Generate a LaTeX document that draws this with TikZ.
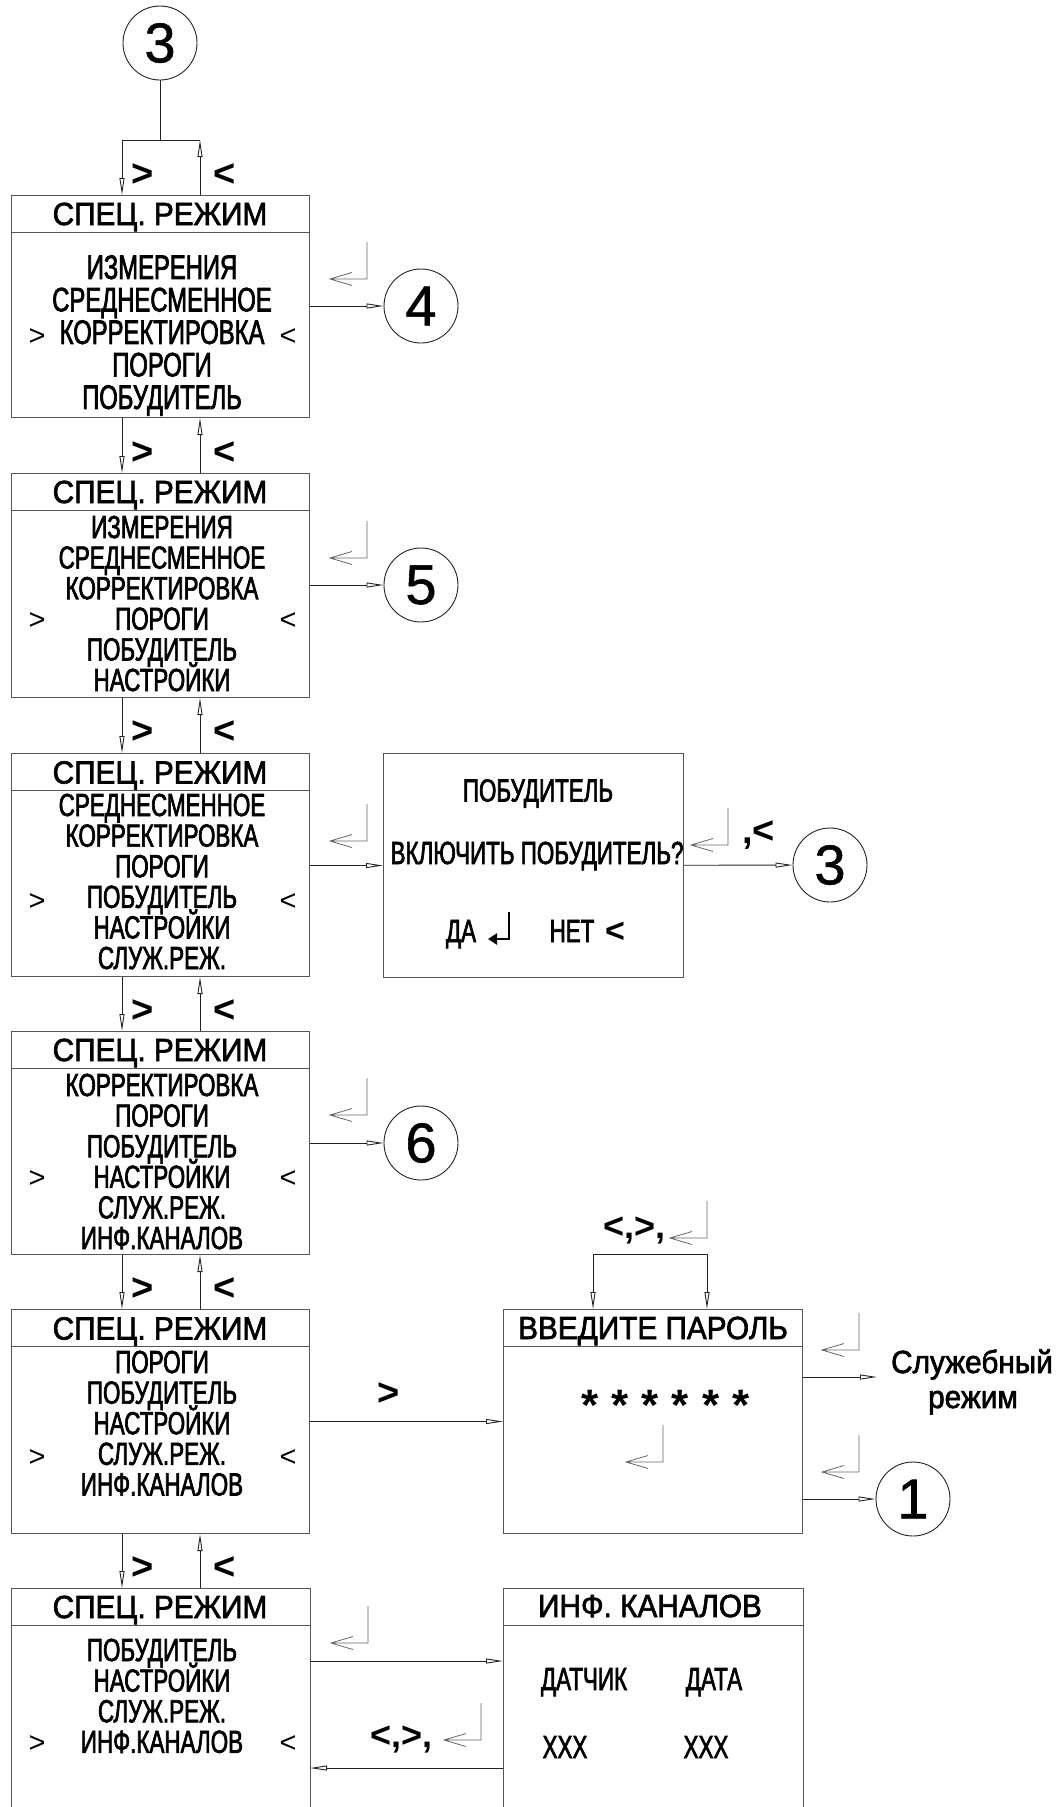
\documentclass[tikz,border=0pt]{standalone}
\usepackage{fontspec}
\setmainfont{Liberation Sans}
\newfontfamily\bodyf[FakeStretch=0.70,FakeBold=2]{Liberation Sans}
\newfontfamily\headf[FakeStretch=0.93,FakeBold=2]{Liberation Sans}
\newfontfamily\digf[FakeBold=1]{Liberation Sans}
\usetikzlibrary{arrows.meta,calc}
\definecolor{boxc}{HTML}{555555}
\definecolor{linec}{HTML}{222222}
\definecolor{retc}{HTML}{666666}
\tikzset{
  scrbox/.style={draw=boxc, line width=1pt, rectangle, inner sep=0pt, anchor=north west},
  boxline/.style={draw=boxc, line width=1pt},
  wire/.style={draw=linec, line width=0.9pt},
  arr/.style={wire, -{Triangle[open, length=17pt, width=5pt]}},
  headtxt/.style={font=\headf\fontsize{32}{34}\selectfont, inner sep=0pt, anchor=base},
  bodytxt/.style={font=\bodyf\fontsize{32}{30.6}\selectfont, inner sep=0pt, align=center, anchor=north},
  txt/.style={font=\bodyf\fontsize{32}{34}\selectfont, inner sep=0pt, anchor=base},
  selmark/.style={font=\fontsize{29}{31}\selectfont, inner sep=0pt, anchor=base},
  keylab/.style={font=\bfseries\fontsize{38}{40}\selectfont, inner sep=0pt, anchor=base},
  conn/.style={circle, draw=linec, line width=0.9pt, minimum size=74pt, inner sep=0pt, font=\digf\fontsize{56}{58}\selectfont},
  retline/.style={draw=retc, line width=0.8pt},
  ret/.pic={\draw[retline] (0,-37) -- (0,0) -- (-37,0) (-15,-6.5) -- (-37,0) -- (-15,6.5);},
}
\begin{document}
\setlength{\lineskiplimit}{-100pt}
\begin{tikzpicture}[x=1pt,y=-1pt]
\useasboundingbox (0,0) rectangle (1060,1807);
\coordinate (bot) at (0,1807);
% top connector
\node[conn] (c3t) at (160,43) {3};
\coordinate (jl) at (122,140);
\coordinate (jm) at (160,140);
\coordinate (jr) at (200,140);
\draw[wire] (c3t) -- (jm);
\draw[wire] (jl) -- (jr);

% left column boxes
\node[scrbox, minimum width=298pt, minimum height=222pt] (B1) at (11,195) {};
\node[scrbox, minimum width=298pt, minimum height=224pt] (B2) at (11,473) {};
\node[scrbox, minimum width=298pt, minimum height=223pt] (B3) at (11,753) {};
\node[scrbox, minimum width=298pt, minimum height=223pt] (B4) at (11,1031) {};
\node[scrbox, minimum width=298pt, minimum height=224pt] (B5) at (11,1309) {};
\node[scrbox, draw=none, minimum width=298pt, minimum height=219pt] (B6) at (11,1588) {};
\draw[boxline] (B6.north west |- bot) -- (B6.north west) -- (B6.north east) -- (B6.north east |- bot);
\draw[arr] (jl) -- (jl |- B1.north);
\draw[arr] (jr |- B1.north) -- (jr);
\foreach \b in {B1,B2,B3,B4,B5,B6}{
  \draw[boxline] ([yshift=-37pt]\b.north west) -- ([yshift=-37pt]\b.north east);
}
\foreach \u/\l in {B1/B2,B2/B3,B3/B4,B4/B5,B5/B6}{
  \draw[arr] (jl |- \u.south) -- (jl |- \l.north);
  \draw[arr] (jr |- \l.north) -- (jr |- \u.south);
}
\foreach \y [count=\i] in {186,464,743,1022,1300,1579}{
  \node[keylab] (gt\i) at (143,\y) {>};
  \node[keylab] (lt\i) at (225,\y) {<};
}
% headers
\node[headtxt] (B1h) at (160,225) {СПЕЦ. РЕЖИМ};
\node[headtxt] (B2h) at (160,503) {СПЕЦ. РЕЖИМ};
\node[headtxt] (B3h) at (160,783.5) {СПЕЦ. РЕЖИМ};
\node[headtxt] (B4h) at (160,1061) {СПЕЦ. РЕЖИМ};
\node[headtxt] (B5h) at (160,1339.5) {СПЕЦ. РЕЖИМ};
\node[headtxt] (B6h) at (160,1618) {СПЕЦ. РЕЖИМ};
% bodies
\node[bodytxt, font=\bodyf\fontsize{34}{32.5}\selectfont] (B1t) at (162,255)
  {ИЗМЕРЕНИЯ\\СРЕДНЕСМЕННОЕ\\КОРРЕКТИРОВКА\\ПОРОГИ\\ПОБУДИТЕЛЬ};
\node[bodytxt] (B2t) at (162,515.5)
  {ИЗМЕРЕНИЯ\\СРЕДНЕСМЕННОЕ\\КОРРЕКТИРОВКА\\ПОРОГИ\\ПОБУДИТЕЛЬ\\НАСТРОЙКИ};
\node[bodytxt] (B3t) at (162,793.5)
  {СРЕДНЕСМЕННОЕ\\КОРРЕКТИРОВКА\\ПОРОГИ\\ПОБУДИТЕЛЬ\\НАСТРОЙКИ\\СЛУЖ.РЕЖ.};
\node[bodytxt] (B4t) at (162,1073.5)
  {КОРРЕКТИРОВКА\\ПОРОГИ\\ПОБУДИТЕЛЬ\\НАСТРОЙКИ\\СЛУЖ.РЕЖ.\\ИНФ.КАНАЛОВ};
\node[bodytxt] (B5t) at (162,1350.5)
  {ПОРОГИ\\ПОБУДИТЕЛЬ\\НАСТРОЙКИ\\СЛУЖ.РЕЖ.\\ИНФ.КАНАЛОВ};
\node[bodytxt] (B6t) at (162,1638.5)
  {ПОБУДИТЕЛЬ\\НАСТРОЙКИ\\СЛУЖ.РЕЖ.\\ИНФ.КАНАЛОВ};
% selection markers
\foreach \y [count=\i] in {345,629,910,1187.5,1466,1752}{
  \node[selmark] (sl\i) at (37,\y) {>};
  \node[selmark] (sr\i) at (288,\y) {<};
}
% right-hand circles and returns
\node[conn] (c4) at (421,306) {4};
\node[conn] (c5) at (421,585) {5};
\node[conn] (c6) at (421,1143) {6};
\draw[arr] (B1.east |- c4) -- (c4);
\draw[arr] (B2.east |- c5) -- (c5);
\draw[arr] (B4.east |- c6) -- (c6);
\pic at (367,279) {ret};
\pic at (367,558) {ret};
\pic at (367,841) {ret};
\pic at (367,1115) {ret};

% popup box
\node[scrbox, minimum width=300pt, minimum height=224pt] (Q) at (383,753) {};
\draw[arr] (B3.east |- Q) -- (Q);
\node[txt] (q1) at (538,801.5) {ПОБУДИТЕЛЬ};
\node[txt] (q2) at (537,864) {ВКЛЮЧИТЬ ПОБУДИТЕЛЬ?};
\node[txt] (q3) at (461,942) {ДА};
\draw[line width=2.6pt, -{Triangle[length=9pt,width=11pt]}] (509,912) -- (509,939) -- (488,939);
\node[txt] (q4) at (572,942) {НЕТ};
\node[keylab, font=\bfseries\fontsize{34}{36}\selectfont] (q5) at (615,942) {<};
\node[conn] (c3r) at (830,865) {3};
\draw[arr] (Q) -- (c3r);
\pic at (728,845) {ret};
\node[keylab, anchor=base west] (qk) at (742,843) {,<};

% password box
\node[scrbox, minimum width=299pt, minimum height=224pt] (P) at (503,1309) {};
\draw[boxline] ([yshift=-37pt]P.north west) -- ([yshift=-37pt]P.north east);
\node[headtxt] (Ph) at (653,1339) {ВВЕДИТЕ ПАРОЛЬ};
\node[font=\bfseries\fontsize{44}{46}\selectfont, inner sep=0pt, anchor=base] (stars) at (665.5,1420)
  {*\hspace{13pt}*\hspace{13pt}*\hspace{13pt}*\hspace{13pt}*\hspace{13pt}*};
\pic at (663,1462) {ret};
\draw[arr] (B5.east |- P) -- (P);
\node[keylab] (pgt) at (389,1405) {>};
\coordinate (pl) at (593,1254);
\coordinate (pr) at (707,1254);
\draw[wire] (pl) -- (pr);
\draw[arr] (pl) -- (pl |- P.north);
\draw[arr] (pr) -- (pr |- P.north);
\node[keylab, font=\bfseries\fontsize{36}{38}\selectfont, anchor=base west] (ptk) at (603,1238) {<,>,};
\pic at (707,1238) {ret};
% service mode
\coordinate (ys) at (0,1377);
\coordinate (srvin) at (877,1377);
\draw[arr] (P.east |- ys) -- (srvin);
\pic at (859,1350) {ret};
\node[headtxt] (srv1) at (972,1373) {Служебный};
\node[headtxt] (srv2) at (973,1408) {режим};
% exit to 1
\node[conn] (c1) at (913,1499) {1};
\draw[arr] (P.east |- c1) -- (c1);
\pic at (859,1472) {ret};

% channel info box
\node[scrbox, draw=none, minimum width=299pt, minimum height=219pt] (I) at (503,1588) {};
\draw[boxline] (I.north west |- bot) -- (I.north west) -- (I.north east) -- (I.north east |- bot);
\draw[boxline] ([yshift=-37pt]I.north west) -- ([yshift=-37pt]I.north east);
\node[headtxt] (Ih) at (650,1617) {ИНФ. КАНАЛОВ};
\node[txt] (i1) at (584,1690) {ДАТЧИК};
\node[txt] (i2) at (714,1690) {ДАТА};
\node[txt] (i3) at (565,1758) {XXX};
\node[txt] (i4) at (706,1758) {XXX};
\coordinate (ya) at (0,1661);
\coordinate (yb) at (0,1768);
\draw[arr] (B6.east |- ya) -- (I.west |- ya);
\draw[arr] (I.west |- yb) -- (B6.east |- yb);
\pic at (368,1643) {ret};
\pic at (481,1740) {ret};
\node[keylab, font=\bfseries\fontsize{36}{38}\selectfont, anchor=base west] (itk) at (370,1747) {<,>,};
\end{tikzpicture}
\end{document}
